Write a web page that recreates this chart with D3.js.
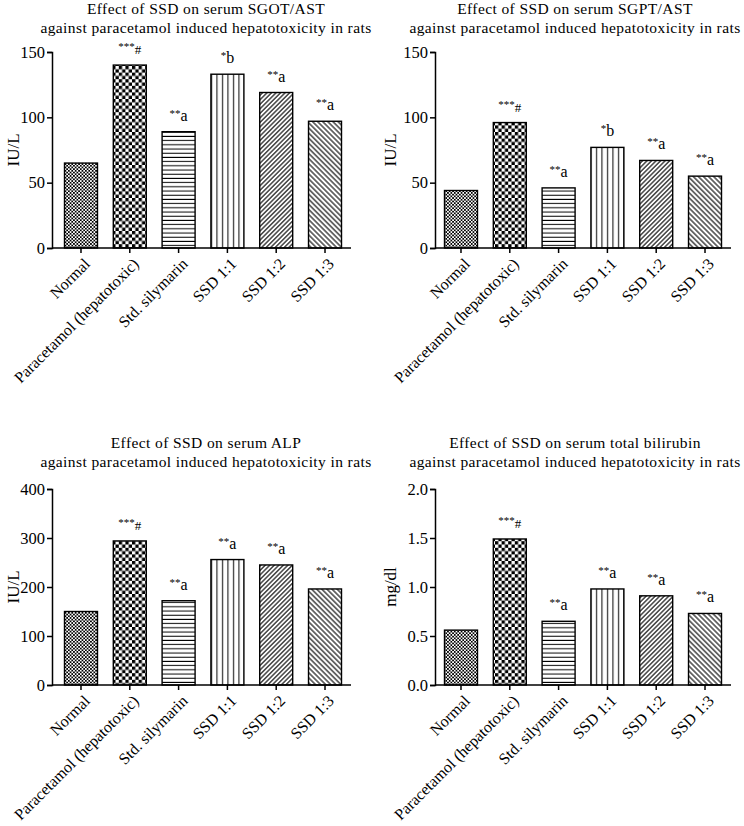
<!DOCTYPE html>
<html><head><meta charset="utf-8">
<script src="https://cdn.jsdelivr.net/npm/d3@7"></script>
<style>
body{margin:0;background:#fff}
text{font-family:"Liberation Serif","Times New Roman",serif;fill:#000}
</style>
</head><body><svg id="c" width="744" height="826"></svg>
<script>
const categories = ["Normal","Paracetamol (hepatotoxic)","Std. silymarin","SSD 1:1","SSD 1:2","SSD 1:3"];
const sgotValues = [65,140,89,133,119,97];
const sgptValues = [44,96,46,77,67,55];
const alpValues = [150,294,172,256,245,196];
const bilirubinValues = [0.56,1.49,0.65,0.98,0.91,0.73];
const sgotStars = ["","***","**","*","**","**"];
const sgotLetters = ["","#","a","b","a","a"];
const sgptStars = ["","***","**","*","**","**"];
const sgptLetters = ["","#","a","b","a","a"];
const alpStars = ["","***","**","**","**","**"];
const alpLetters = ["","#","a","a","a","a"];
const biliStars = ["","***","**","**","**","**"];
const biliLetters = ["","#","a","a","a","a"];
const sgotTicks = [0,50,100,150];
const sgptTicks = [0,50,100,150];
const alpTicks = [0,100,200,300,400];
const biliTicks = [0,0.5,1.0,1.5,2.0];
const titlesLine1 = ["Effect of SSD on serum SGOT/AST","Effect of SSD on serum SGPT/AST","Effect of SSD on serum ALP","Effect of SSD on serum total bilirubin"];
const titleLine2 = "against paracetamol induced hepatotoxicity in rats";
const yLabels = ["IU/L","IU/L","IU/L","mg/dl"];

const svg = d3.select("#c");
const defs = svg.append("defs");
const patternIds = ["pFine","pCheck","pHoriz","pVert","pDiagR","pDiagL"];
(function(){
  let p = defs.append("pattern").attr("id","pFine").attr("patternUnits","userSpaceOnUse").attr("width",3.4).attr("height",3.4);
  p.append("rect").attr("width",3.4).attr("height",3.4).attr("fill","#fff");
  p.append("rect").attr("width",1.7).attr("height",1.7).attr("fill","#000");
  p.append("rect").attr("x",1.7).attr("y",1.7).attr("width",1.7).attr("height",1.7).attr("fill","#000");
  p = defs.append("pattern").attr("id","pCheck").attr("patternUnits","userSpaceOnUse").attr("width",6.6).attr("height",6.6);
  p.append("rect").attr("width",6.6).attr("height",6.6).attr("fill","#fff");
  p.append("rect").attr("width",3.3).attr("height",3.3).attr("fill","#000");
  p.append("rect").attr("x",3.3).attr("y",3.3).attr("width",3.3).attr("height",3.3).attr("fill","#000");
  p = defs.append("pattern").attr("id","pHoriz").attr("patternUnits","userSpaceOnUse").attr("width",10).attr("height",4.2);
  p.append("rect").attr("width",10).attr("height",4.2).attr("fill","#fff");
  p.append("line").attr("x1",0).attr("x2",10).attr("y1",2).attr("y2",2).attr("stroke","#000").attr("stroke-width",1);
  p = defs.append("pattern").attr("id","pVert").attr("patternUnits","userSpaceOnUse").attr("width",5.5).attr("height",10);
  p.append("rect").attr("width",5.5).attr("height",10).attr("fill","#fff");
  p.append("line").attr("y1",0).attr("y2",10).attr("x1",2.5).attr("x2",2.5).attr("stroke","#000").attr("stroke-width",1);
  p = defs.append("pattern").attr("id","pDiagR").attr("patternUnits","userSpaceOnUse").attr("width",3.2).attr("height",3.2).attr("patternTransform","rotate(45)");
  p.append("rect").attr("width",3.2).attr("height",3.2).attr("fill","#fff");
  p.append("line").attr("y1",0).attr("y2",3.2).attr("x1",1.6).attr("x2",1.6).attr("stroke","#000").attr("stroke-width",1.1);
  p = defs.append("pattern").attr("id","pDiagL").attr("patternUnits","userSpaceOnUse").attr("width",3.6).attr("height",3.6).attr("patternTransform","rotate(-45)");
  p.append("rect").attr("width",3.6).attr("height",3.6).attr("fill","#fff");
  p.append("line").attr("y1",0).attr("y2",3.6).attr("x1",1.8).attr("x2",1.8).attr("stroke","#000").attr("stroke-width",1.1);
})();

const cols = [
  {axisX:52, bandStart:52, axisEnd:351, titleX:206, ylabX:13},
  {axisX:435, bandStart:432, axisEnd:731, titleX:575, ylabX:390}
];
const rows = [
  {yTop:52, yBottom:248, t1:13.5, t2:32.5},
  {yTop:489, yBottom:685, t1:448, t2:467}
];

const panels = [
  {values:sgotValues, stars:sgotStars, letters:sgotLetters, ticks:sgotTicks, fmt:d3.format("d"), col:0,row:0},
  {values:sgptValues, stars:sgptStars, letters:sgptLetters, ticks:sgptTicks, fmt:d3.format("d"), col:1,row:0},
  {values:alpValues, stars:alpStars, letters:alpLetters, ticks:alpTicks, fmt:d3.format("d"), col:0,row:1},
  {values:bilirubinValues, stars:biliStars, letters:biliLetters, ticks:biliTicks, fmt:d3.format(".1f"), col:1,row:1}
];

panels.forEach((pn,i)=>{
  const c = cols[pn.col], r = rows[pn.row];
  const g = svg.append("g");
  const x = d3.scaleBand().domain(categories).range([c.bandStart, c.bandStart+302]).paddingInner(0.324).paddingOuter(0.256);
  const y = d3.scaleLinear().domain([pn.ticks[0], pn.ticks[pn.ticks.length-1]]).range([r.yBottom, r.yTop]);

  [titlesLine1[i], titleLine2].forEach((s,k)=>{
    g.append("text").attr("x",c.titleX).attr("y",k? r.t2 : r.t1).attr("text-anchor","middle")
      .style("font-size","15.5px").style("letter-spacing","0.4px").text(s);
  });

  g.selectAll("rect.bar").data(pn.values).join("rect").attr("class","bar")
    .attr("x",(d,j)=>x(categories[j]))
    .attr("y",d=>y(d))
    .attr("width",x.bandwidth())
    .attr("height",d=>y(0)-y(d))
    .attr("fill",(d,j)=>`url(#${patternIds[j]})`)
    .attr("stroke","#000").attr("stroke-width",1.4);

  const ya = d3.axisLeft(y).tickValues(pn.ticks).tickFormat(pn.fmt).tickSize(5).tickPadding(2);
  const yg = g.append("g").attr("transform",`translate(${c.axisX},0)`).call(ya);
  yg.select(".domain").attr("stroke-width",1.5);
  yg.selectAll(".tick line").attr("stroke-width",1.5);
  yg.selectAll(".tick text").style("font-size","16.5px").style("font-family","'Liberation Serif',serif");

  const xa = d3.axisBottom(x).tickSize(5).tickFormat("");
  const xg = g.append("g").attr("transform",`translate(0,${r.yBottom})`).call(xa);
  xg.select(".domain").attr("d",`M${c.axisX},0H${c.axisEnd}`).attr("stroke-width",1.5);
  xg.selectAll(".tick line").attr("stroke-width",1.5);

  g.selectAll("text.xl").data(categories).join("text").attr("class","xl")
    .attr("transform",d=>`translate(${x(d)+x.bandwidth()/2+6},${r.yBottom+13}) rotate(-45)`)
    .attr("text-anchor","end").attr("dy","0.35em").style("font-size","16px").text(d=>d);

  g.append("text").attr("transform",`translate(${c.ylabX},${(r.yTop+r.yBottom)/2}) rotate(-90)`)
    .attr("text-anchor","middle").attr("dy","0.35em").style("font-size","17px").text(yLabels[i]);

  pn.values.forEach((v,j)=>{
    if(!pn.stars[j]) return;
    const cx = x(categories[j])+x.bandwidth()/2;
    const t = g.append("text").attr("x",cx).attr("y",y(v)-11).attr("text-anchor","middle");
    t.append("tspan").style("font-size","11px").attr("dy","-4").text(pn.stars[j]);
    if(pn.letters[j]==="#"){
      t.append("tspan").style("font-size","13px").attr("dy","4").text(pn.letters[j]);
    } else {
      t.append("tspan").style("font-size","16px").attr("dy","4").text(pn.letters[j]);
    }
  });
});
</script>
</body></html>
